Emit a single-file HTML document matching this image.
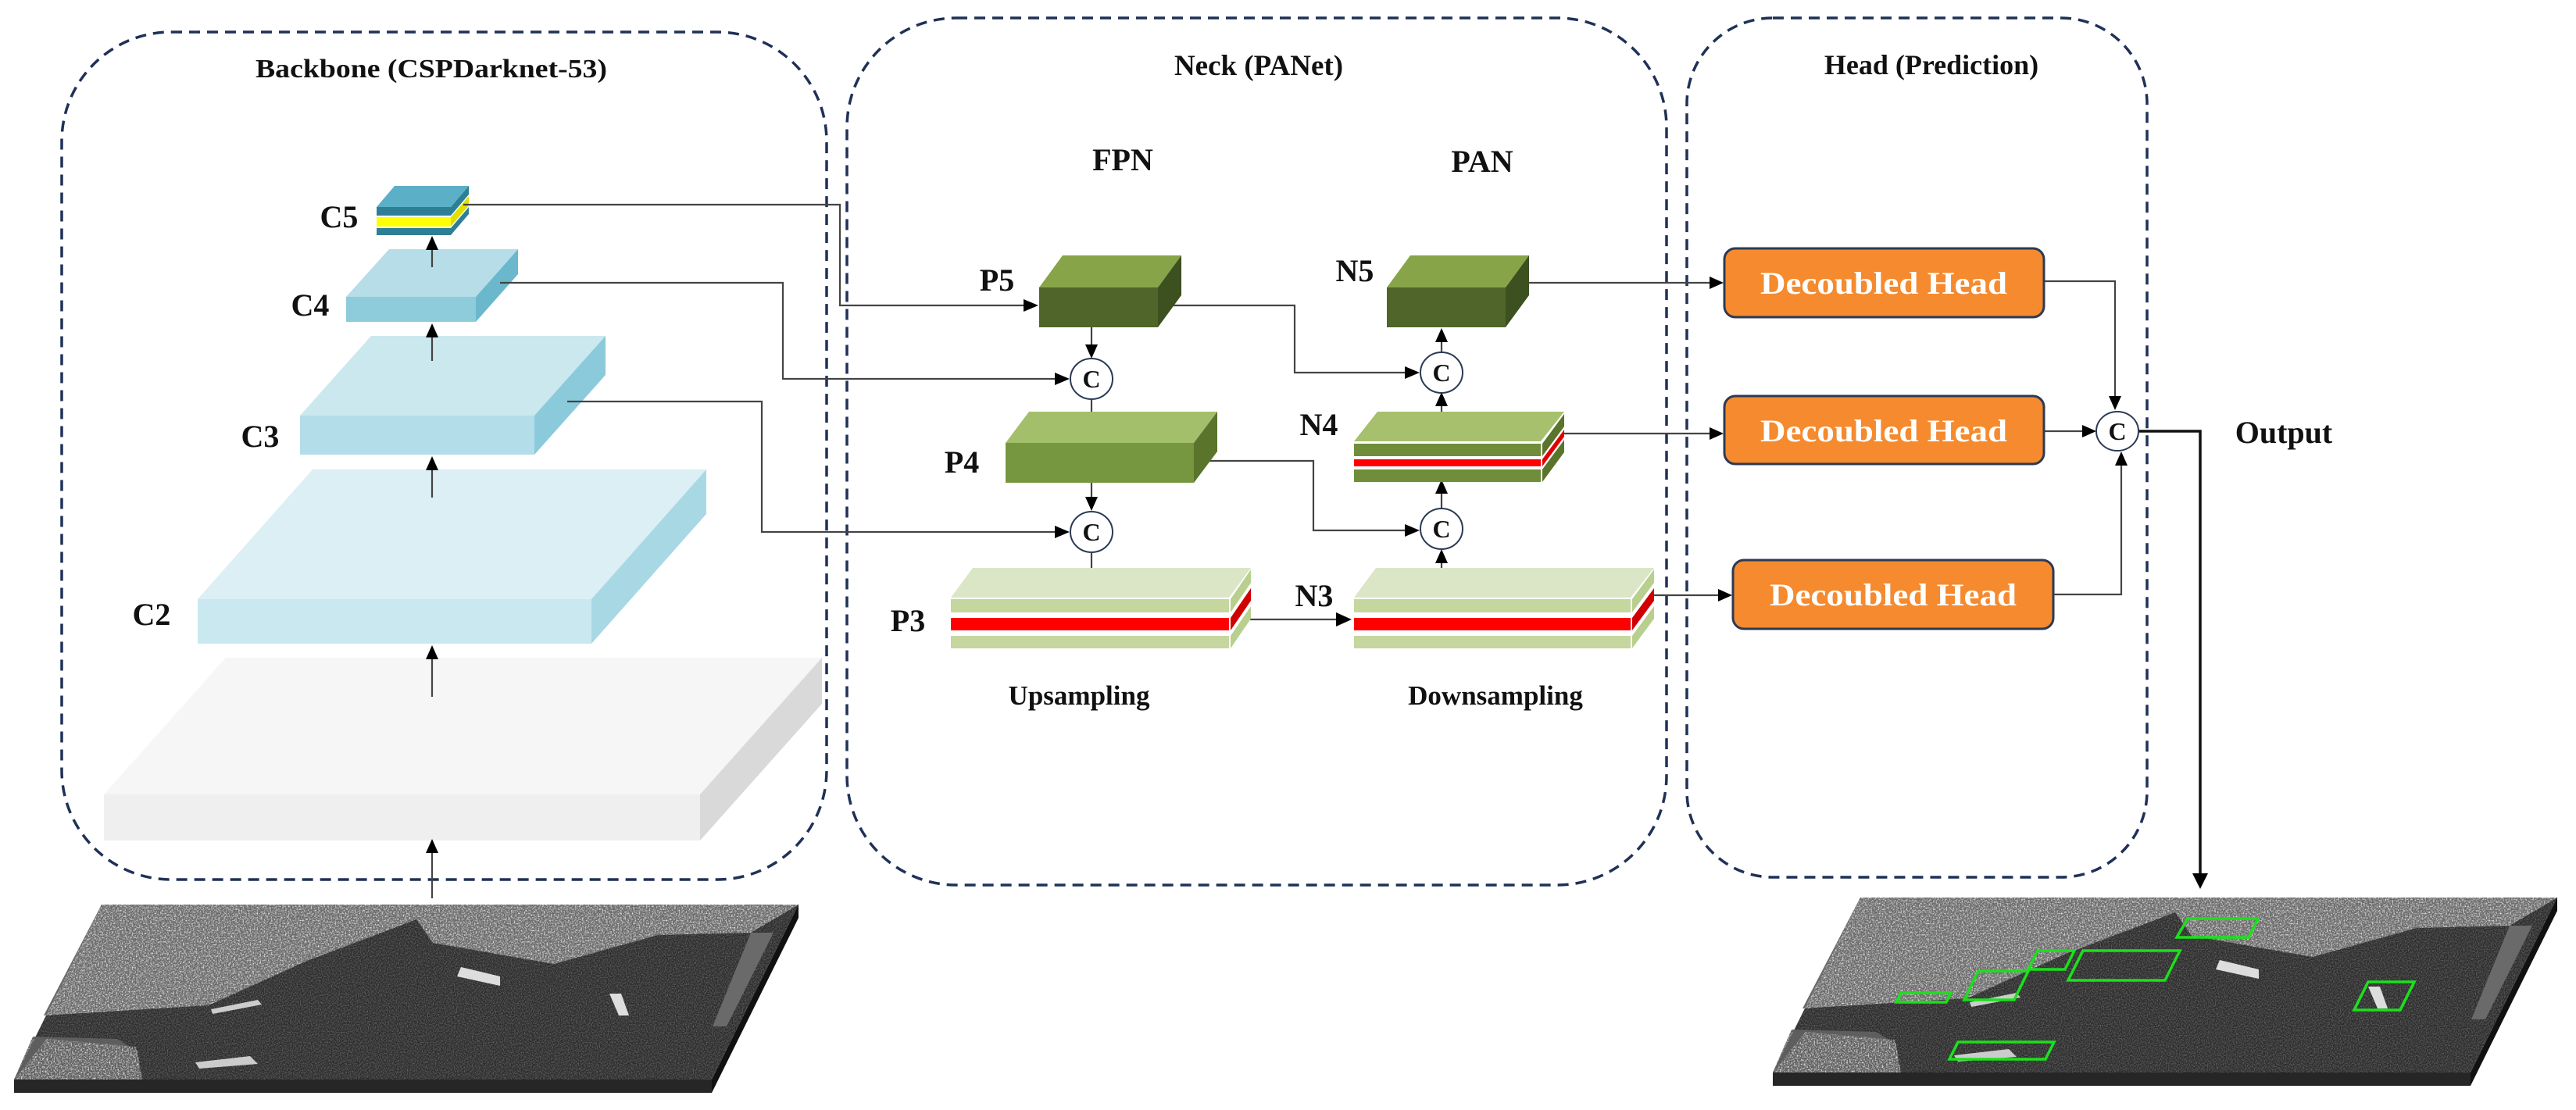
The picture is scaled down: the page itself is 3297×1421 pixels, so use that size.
<!DOCTYPE html>
<html><head><meta charset="utf-8"><style>
html,body{margin:0;padding:0;background:#fff}
svg{display:block}
text{font-family:"Liberation Serif",serif;font-weight:bold;fill:#111}
</style></head><body>
<svg width="3297" height="1421" viewBox="0 0 3297 1421" xmlns="http://www.w3.org/2000/svg">
<defs>
<filter id="nz" x="0" y="0" width="100%" height="100%">
<feTurbulence type="fractalNoise" baseFrequency="0.55" numOctaves="2" seed="4"/>
<feColorMatrix type="matrix" values="0 0 0 0 1  0 0 0 0 1  0 0 0 0 1  2.2 0 0 0 -0.95"/>
</filter>
<filter id="nz2" x="0" y="0" width="100%" height="100%">
<feTurbulence type="fractalNoise" baseFrequency="0.7" numOctaves="1" seed="9"/>
<feColorMatrix type="matrix" values="0 0 0 0 1  0 0 0 0 1  0 0 0 0 1  1.4 0 0 0 -0.55"/>
</filter>
<clipPath id="cpIn"><polygon points="130,1158 1022,1158 911,1382 18,1382"/></clipPath>
<clipPath id="cpLand"><polygon points="130,1158 1022,1158 961,1194 842,1197 709,1234 554,1207 533,1177 393,1230 267,1287 56,1300 42,1327 18,1382 182,1382 175,1340 60,1330 18,1382"/></clipPath>
<g id="sar">
<polygon points="911,1382 1022,1158 1022,1175 911,1399" fill="#111"/>
<rect x="18" y="1382" width="893" height="17" fill="#262626"/>
<polygon points="130,1158 1022,1158 911,1382 18,1382" fill="#2c2c2c"/>
<g clip-path="url(#cpIn)"><rect x="0" y="1150" width="1030" height="240" filter="url(#nz2)" opacity="0.5"/></g>
<polygon points="130,1158 1022,1158 961,1194 842,1197 709,1234 554,1207 533,1177 393,1230 267,1287 56,1300" fill="#6a6a6a"/>
<polygon points="42,1327 150,1330 175,1345 182,1382 18,1382" fill="#5e5e5e"/>
<polygon points="961,1194 990,1194 930,1314 912,1314" fill="#6a6a6a"/>
<g clip-path="url(#cpLand)"><rect x="0" y="1150" width="1030" height="240" filter="url(#nz)"/></g>
<polygon points="590,1238 640,1250 640,1262 585,1250" fill="#ddd"/>
<polygon points="270,1292 330,1280 335,1286 272,1298" fill="#ccc"/>
<polygon points="250,1360 320,1352 330,1362 255,1368" fill="#ccc"/>
<polygon points="780,1272 795,1272 805,1300 792,1300" fill="#ddd"/>
</g>
</defs>

<g fill="none" stroke="#1f3157" stroke-width="3.5" stroke-dasharray="14 9">
<rect x="79" y="41" width="979" height="1085" rx="140"/>
<rect x="1084" y="23" width="1049" height="1110" rx="140"/>
<rect x="2159" y="23" width="589" height="1100" rx="110"/>
</g>
<text x="552" y="99" font-size="34" text-anchor="middle" textLength="450" lengthAdjust="spacingAndGlyphs">Backbone (CSPDarknet-53)</text>
<text x="1611" y="96" font-size="37" text-anchor="middle">Neck (PANet)</text>
<text x="2472" y="95" font-size="36" text-anchor="middle">Head (Prediction)</text>
<text x="1437" y="218" font-size="40" text-anchor="middle">FPN</text>
<text x="1897" y="220" font-size="40" text-anchor="middle">PAN</text>

<polygon points="133,1017 289,842 1052,842 896,1017" fill="#f6f6f6"/>
<polygon points="896,1017 1052,842 1052,901 896,1076" fill="#d9d9d9"/>
<rect x="133" y="1017" width="763" height="59" fill="#efefef"/>
<polygon points="253,767 400,601 904,601 757,767" fill="#dbeff5"/>
<polygon points="757,767 904,601 904,658 757,824" fill="#a9d8e5"/>
<rect x="253" y="767" width="504" height="57" fill="#cae8f0"/>
<polygon points="384,532 475,430 775,430 684,532" fill="#cbe8ef"/>
<polygon points="684,532 775,430 775,480 684,582" fill="#8bcadb"/>
<rect x="384" y="532" width="300" height="50" fill="#b3dde8"/>
<polygon points="443,380 498,319 663,319 609,380" fill="#b6dde8"/>
<polygon points="609,380 663,319 663,351 609,412" fill="#6bb8cc"/>
<rect x="443" y="380" width="166" height="32" fill="#8ecbdb"/>
<polygon points="482,265 505,238 600,238 577,265" fill="#5bb0c8"/>
<rect x="482" y="265" width="95" height="11" fill="#2e7f96"/>
<rect x="482" y="278" width="95" height="12" fill="#ffff00"/>
<rect x="482" y="292" width="95" height="9" fill="#2e7f96"/>
<polygon points="577,265 600,238 600,249 577,276" fill="#2e7f96"/>
<polygon points="577,278 600,251 600,263 577,290" fill="#e0e000"/>
<polygon points="577,292 600,265 600,274 577,301" fill="#2e7f96"/>
<text x="434" y="291" font-size="40" text-anchor="middle">C5</text>
<text x="397" y="404" font-size="40" text-anchor="middle">C4</text>
<text x="333" y="572" font-size="40" text-anchor="middle">C3</text>
<text x="194" y="800" font-size="40" text-anchor="middle">C2</text>

<use href="#sar"/>
<use href="#sar" transform="translate(2251,-9)"/>
<g fill="none" stroke="#1be01b" stroke-width="3.5">
<polygon points="2800,1176 2890,1176 2878,1200 2786,1200"/>
<polygon points="2608,1217 2655,1217 2643,1241 2596,1241"/>
<polygon points="2666,1217 2790,1217 2771,1255 2647,1255"/>
<polygon points="2532,1243 2596,1243 2578,1280 2514,1280"/>
<polygon points="2433,1271 2497,1271 2491,1283 2427,1283"/>
<polygon points="3031,1257 3090,1257 3072,1293 3013,1293"/>
<polygon points="2506,1334 2629,1334 2618,1356 2495,1356"/>
</g>

<g fill="none" stroke="#444" stroke-width="2.2">
<line x1="553" y1="1150" x2="553" y2="1090"/>
<line x1="553" y1="892" x2="553" y2="840"/>
<line x1="553" y1="637" x2="553" y2="598"/>
<line x1="553" y1="462" x2="553" y2="428"/>
<line x1="553" y1="342" x2="553" y2="316"/>
<polyline points="593,262 1075,262 1075,391 1312,391"/>
<polyline points="640,362 1002,362 1002,485 1352,485"/>
<polyline points="726,514 975,514 975,681 1352,681"/>
<line x1="1397" y1="419" x2="1397" y2="445"/>
<line x1="1397" y1="512" x2="1397" y2="540"/>
<line x1="1397" y1="618" x2="1397" y2="640"/>
<line x1="1397" y1="708" x2="1397" y2="740"/>
<line x1="1600" y1="793" x2="1712" y2="793"/>
<polyline points="1540,590 1681,590 1681,679 1800,679"/>
<polyline points="1495,391 1657,391 1657,477 1800,477"/>
<line x1="1845" y1="727" x2="1845" y2="717"/>
<line x1="1845" y1="651" x2="1845" y2="630"/>
<line x1="1845" y1="527" x2="1845" y2="515"/>
<line x1="1845" y1="450" x2="1845" y2="432"/>
<line x1="1957" y1="362" x2="2190" y2="362"/>
<line x1="2002" y1="555" x2="2190" y2="555"/>
<line x1="2117" y1="762" x2="2200" y2="762"/>
<polyline points="2616,360 2707,360 2707,510"/>
<line x1="2616" y1="552" x2="2668" y2="552"/>
<polyline points="2628,761 2715,761 2715,592"/>
</g>
<polyline points="2737,552 2816,552 2816,1122" fill="none" stroke="#111" stroke-width="3.5"/>
<g fill="#000">
<polygon points="553,1074 545,1092 561,1092"/>
<polygon points="553,826 545,844 561,844"/>
<polygon points="553,584 545,602 561,602"/>
<polygon points="553,414 545,432 561,432"/>
<polygon points="553,302 545,320 561,320"/>
<polygon points="1329,391 1310,383 1310,399"/>
<polygon points="1369,485 1350,477 1350,493"/>
<polygon points="1369,681 1350,673 1350,689"/>
<polygon points="1397,459 1389,441 1405,441"/>
<polygon points="1397,554 1389,536 1405,536"/>
<polygon points="1397,654 1389,636 1405,636"/>
<polygon points="1397,754 1389,736 1405,736"/>
<polygon points="1730,793 1710,784 1710,802"/>
<polygon points="1817,477 1798,469 1798,485"/>
<polygon points="1817,679 1798,671 1798,687"/>
<polygon points="1845,703 1837,721 1853,721"/>
<polygon points="1845,614 1837,632 1853,632"/>
<polygon points="1845,502 1837,520 1853,520"/>
<polygon points="1845,420 1837,438 1853,438"/>
<polygon points="2206,362 2188,354 2188,370"/>
<polygon points="2206,555 2188,547 2188,563"/>
<polygon points="2217,762 2199,754 2199,770"/>
<polygon points="2707,525 2699,507 2715,507"/>
<polygon points="2683,552 2665,544 2665,560"/>
<polygon points="2715,578 2707,596 2723,596"/>
<polygon points="2816,1138 2806,1118 2826,1118"/>
</g>

<polygon points="1330,368 1360,327 1512,327 1482,368" fill="#87a548"/>
<polygon points="1482,368 1512,327 1512,378 1482,419" fill="#3c5020"/>
<rect x="1330" y="368" width="152" height="51" fill="#4f6529"/>
<polygon points="1287,567 1317,527 1558,527 1528,567" fill="#a4bf6c"/>
<polygon points="1528,567 1558,527 1558,578 1528,618" fill="#5a742c"/>
<rect x="1287" y="567" width="241" height="51" fill="#779640"/>
<polygon points="1217,765 1245,727 1601,727 1573,765" fill="#dbe6c6"/>
<rect x="1217" y="767" width="356" height="17" fill="#c5d69e"/>
<rect x="1217" y="791" width="356" height="16" fill="#ff0000"/>
<rect x="1217" y="814" width="356" height="16" fill="#c5d69e"/>
<polygon points="1575,767 1601,729 1601,746 1575,784" fill="#b8cf8e"/>
<polygon points="1575,791 1601,753 1601,769 1575,807" fill="#d00000"/>
<polygon points="1575,814 1601,776 1601,792 1575,830" fill="#b8cf8e"/>
<polygon points="1733,765 1761,727 2117,727 2087,765" fill="#dbe6c6"/>
<rect x="1733" y="767" width="354" height="17" fill="#c5d69e"/>
<rect x="1733" y="791" width="354" height="16" fill="#ff0000"/>
<rect x="1733" y="814" width="354" height="16" fill="#c5d69e"/>
<polygon points="2089,767 2117,729 2117,746 2089,784" fill="#b8cf8e"/>
<polygon points="2089,791 2117,753 2117,769 2089,807" fill="#d00000"/>
<polygon points="2089,814 2117,776 2117,792 2089,830" fill="#b8cf8e"/>
<polygon points="1733,565 1763,527 2002,527 1972,565" fill="#a6c06e"/>
<rect x="1733" y="568" width="239" height="16" fill="#6f8d3a"/>
<rect x="1733" y="588" width="239" height="9" fill="#ff0000"/>
<rect x="1733" y="601" width="239" height="16" fill="#6f8d3a"/>
<polygon points="1974,568 2002,530 2002,546 1974,584" fill="#5a742c"/>
<polygon points="1974,588 2002,550 2002,559 1974,597" fill="#e00000"/>
<polygon points="1974,601 2002,563 2002,579 1974,617" fill="#5a742c"/>
<polygon points="1775,368 1805,327 1957,327 1927,368" fill="#87a548"/>
<polygon points="1927,368 1957,327 1957,378 1927,419" fill="#3c5020"/>
<rect x="1775" y="368" width="152" height="51" fill="#4f6529"/>

<text x="1276" y="372" font-size="40" text-anchor="middle">P5</text>
<text x="1231" y="605" font-size="40" text-anchor="middle">P4</text>
<text x="1162" y="808" font-size="40" text-anchor="middle">P3</text>
<text x="1734" y="360" font-size="40" text-anchor="middle">N5</text>
<text x="1688" y="557" font-size="40" text-anchor="middle">N4</text>
<text x="1682" y="776" font-size="40" text-anchor="middle">N3</text>
<text x="1381" y="902" font-size="35" text-anchor="middle">Upsampling</text>
<text x="1914" y="902" font-size="35" text-anchor="middle">Downsampling</text>

<g fill="#fff" stroke="#2b3a55" stroke-width="2">
<ellipse cx="1397" cy="485" rx="27" ry="26"/>
<ellipse cx="1397" cy="681" rx="27" ry="26"/>
<ellipse cx="1845" cy="477" rx="27" ry="26"/>
<ellipse cx="1845" cy="677" rx="27" ry="26"/>
<ellipse cx="2710" cy="552" rx="27" ry="25"/>
</g>
<g font-size="32" text-anchor="middle">
<text x="1397" y="496">C</text>
<text x="1397" y="692">C</text>
<text x="1845" y="488">C</text>
<text x="1845" y="688">C</text>
<text x="2710" y="563">C</text>
</g>

<g fill="#f58a2e" stroke="#2b3a55" stroke-width="3">
<rect x="2207" y="318" width="409" height="88" rx="14"/>
<rect x="2207" y="507" width="409" height="87" rx="14"/>
<rect x="2218" y="717" width="410" height="88" rx="14"/>
</g>
<g font-size="40" text-anchor="middle">
<text x="2411" y="376" style="fill:#fff" textLength="316" lengthAdjust="spacingAndGlyphs">Decoubled Head</text>
<text x="2411" y="565" style="fill:#fff" textLength="316" lengthAdjust="spacingAndGlyphs">Decoubled Head</text>
<text x="2423" y="775" style="fill:#fff" textLength="316" lengthAdjust="spacingAndGlyphs">Decoubled Head</text>
</g>
<text x="2923" y="567" font-size="40" text-anchor="middle">Output</text>
</svg>
</body></html>
